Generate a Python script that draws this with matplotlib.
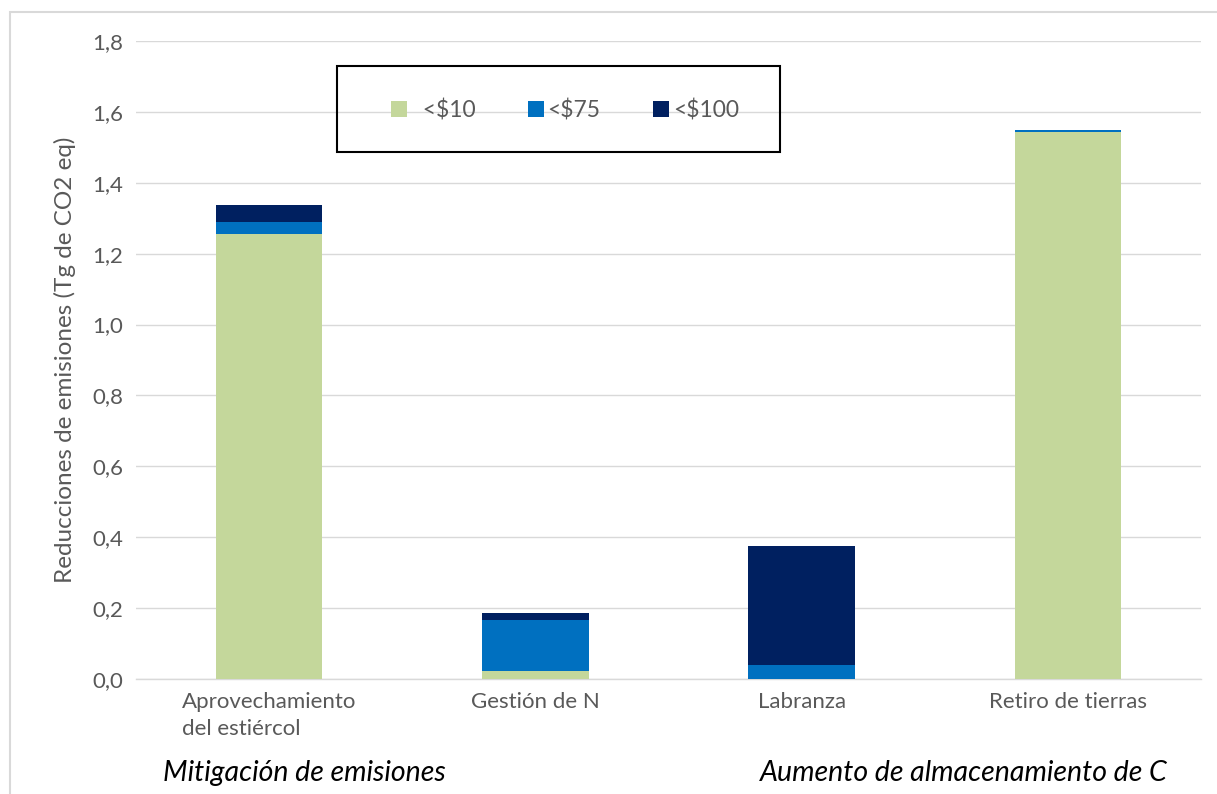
import matplotlib
matplotlib.use("Agg")
import matplotlib.pyplot as plt
from matplotlib.patches import Rectangle, Patch
import numpy as np

plt.rcParams['font.family'] = ['Lato', 'DejaVu Sans']

# data
categories = ['Aprovechamiento\ndel estiércol', 'Gestión de N', 'Labranza', 'Retiro de tierras']
under_10 = [1.256, 0.022, 0.0, 1.544]
under_75 = [0.034, 0.144, 0.040, 0.005]
under_100 = [0.047, 0.019, 0.335, 0.0]
series_names = ['  <$10', '<$75', '<$100']
colors = ['#C4D79B', '#0070C0', '#002060']
yticks = [0.0, 0.2, 0.4, 0.6, 0.8, 1.0, 1.2, 1.4, 1.6, 1.8]

grey = '#595959'
light = '#D9D9D9'

W, H = 1217, 794
fig = plt.figure(figsize=(W / 100, H / 100), dpi=100)
ax = fig.add_axes([136 / W, 1 - 679 / H, (1201 - 136) / W, (679 - 41) / H])

x = np.arange(len(categories))
bottom = np.zeros(len(categories))
handles = []
for vals, name, c in zip([under_10, under_75, under_100], series_names, colors):
    ax.bar(x, vals, 0.4, bottom=bottom, color=c, zorder=3)
    bottom += np.array(vals)
    handles.append(Patch(facecolor=c, label=name))

ax.set_xlim(-0.5, len(categories) - 0.5)
ax.set_ylim(0, 1.8)
ax.set_yticks(yticks)
ax.set_yticklabels([('%.1f' % v).replace('.', ',') for v in yticks])
ax.set_xticks(x)
ax.set_xticklabels(categories, multialignment='left', linespacing=1.45)
ax.tick_params(axis='both', length=0, labelsize=16, colors=grey)
ax.tick_params(axis='y', pad=9)
ax.tick_params(axis='x', pad=9)
ax.grid(axis='y', color=light, linewidth=1, zorder=0)
for s in ['top', 'right', 'left']:
    ax.spines[s].set_visible(False)
ax.spines['bottom'].set_color(light)
ax.spines['bottom'].set_linewidth(1)
ax.set_ylabel('Reducciones de emisiones (Tg de CO2 eq)', fontsize=17.5, color=grey)
ax.yaxis.set_label_coords(-(136 - 76) / (1201 - 136), 0.5)

# legend box
fig.patches.append(Rectangle((337 / W, 1 - 152 / H), (780 - 337) / W, (152 - 66) / H,
                             transform=fig.transFigure, fill=False, edgecolor='black',
                             linewidth=1.5, zorder=5))
leg = fig.legend(handles=handles, loc='center', bbox_to_anchor=(565 / W, 1 - 110 / H),
                 ncol=3, frameon=False, fontsize=16.5, handlelength=0.7, handleheight=0.7,
                 handletextpad=0.15, columnspacing=2.3)
for t in leg.get_texts():
    t.set_color(grey)

# outer chart border
fig.patches.append(Rectangle((10 / W, -0.1), 1.2, 1.1 - 12 / H, transform=fig.transFigure,
                             fill=False, edgecolor=light, linewidth=1.5))

fig.text(163 / W, 1 - 773 / H, 'Mitigación de emisiones', style='italic', fontsize=20.5,
         va='center', ha='left', color='black')
fig.text(1168 / W, 1 - 773 / H, 'Aumento de almacenamiento de C', style='italic', fontsize=20.5,
         va='center', ha='right', color='black')

fig.savefig('out.png', dpi=100)
